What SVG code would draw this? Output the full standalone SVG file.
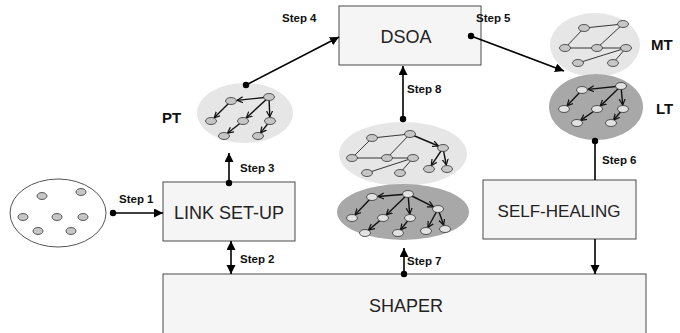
<svg xmlns="http://www.w3.org/2000/svg" width="680" height="333" viewBox="0 0 680 333">
<defs>
<style>
.box{fill:#f5f5f5;stroke:#4a4a4a;stroke-width:1}
.lbl{font-family:"Liberation Sans",Arial,sans-serif;font-size:18px;fill:#222;text-anchor:middle}
.step{font-family:"Liberation Sans",Arial,sans-serif;font-size:11.5px;font-weight:bold;fill:#111}
.tag{font-family:"Liberation Sans",Arial,sans-serif;font-size:15px;font-weight:bold;fill:#111}
.conn{stroke:#000;stroke-width:1.6;fill:none}
.light{fill:#e6e6e6}
.dark{fill:#a8a8a8}
.e{stroke:#222;stroke-width:0.9;fill:none}
.a{stroke:#111;stroke-width:1.4;fill:none;marker-end:url(#ta)}
.n{fill:#c6c6c6;stroke:#333;stroke-width:0.8}
.nd{fill:#e2e2e2;stroke:#333;stroke-width:0.8}
</style>
<marker id="arr" markerUnits="userSpaceOnUse" markerWidth="10" markerHeight="10" refX="9" refY="4.5" orient="auto-start-reverse"><path d="M0,0 L9,4.5 L0,9 Z" fill="#000"/></marker>
<marker id="dot" markerUnits="userSpaceOnUse" markerWidth="8" markerHeight="8" refX="4" refY="4"><circle cx="4" cy="4" r="3.2" fill="#000"/></marker>
<marker id="ta" markerUnits="userSpaceOnUse" markerWidth="8" markerHeight="8" refX="6" refY="3.5" orient="auto"><path d="M0,0.5 L6,3.5 L0,6.5" fill="none" stroke="#111" stroke-width="1.2"/></marker>
</defs>
<rect width="680" height="333" fill="#fff"/>

<g id="nodes-pool">
<ellipse cx="58" cy="213" rx="48" ry="34" fill="#fff" stroke="#555" stroke-width="1"/>
<ellipse class="n" cx="42" cy="196" rx="5" ry="3.5"/>
<ellipse class="n" cx="81" cy="192" rx="5" ry="3.5"/>
<ellipse class="n" cx="23" cy="217" rx="5" ry="3.5"/>
<ellipse class="n" cx="57" cy="217" rx="5" ry="3.5"/>
<ellipse class="n" cx="83" cy="217" rx="5" ry="3.5"/>
<ellipse class="n" cx="38" cy="231" rx="5" ry="3.5"/>
<ellipse class="n" cx="71" cy="231" rx="5" ry="3.5"/>
</g>

<g id="link-setup">
<rect class="box" x="163" y="182" width="132" height="59"/>
<text class="lbl" x="229" y="219">LINK SET-UP</text>
</g>

<g id="self-healing">
<rect class="box" x="483" y="180" width="153" height="59"/>
<text class="lbl" x="559" y="217" style="font-size:17px">SELF-HEALING</text>
</g>

<g id="dsoa">
<rect class="box" x="339" y="6" width="142" height="59"/>
<text class="lbl" x="406" y="43">DSOA</text>
</g>

<g id="shaper">
<rect class="box" x="163" y="274" width="483" height="70"/>
<text class="lbl" x="406" y="312">SHAPER</text>
</g>

<g id="pt">
<ellipse class="light" cx="245" cy="113" rx="48" ry="30"/>
<line class="a" x1="269" y1="97" x2="237" y2="100.4"/>
<line class="a" x1="231" y1="101" x2="214.2" y2="117.8"/>
<line class="a" x1="269" y1="97" x2="246.3" y2="117.9"/>
<line class="a" x1="269" y1="97" x2="269.8" y2="117"/>
<line class="a" x1="243" y1="121" x2="227.5" y2="133.2"/>
<line class="a" x1="270" y1="121" x2="260.5" y2="132.9"/>
<ellipse class="n" cx="269" cy="97" rx="5.5" ry="3.5"/>
<ellipse class="n" cx="231" cy="101" rx="5.5" ry="3.5"/>
<ellipse class="n" cx="211" cy="121" rx="5.5" ry="3.5"/>
<ellipse class="n" cx="243" cy="121" rx="5.5" ry="3.5"/>
<ellipse class="n" cx="270" cy="121" rx="5.5" ry="3.5"/>
<ellipse class="n" cx="224" cy="136" rx="5.5" ry="3.5"/>
<ellipse class="n" cx="258" cy="136" rx="5.5" ry="3.5"/>
<text class="tag" x="162" y="123">PT</text>
</g>

<g id="mt">
<ellipse class="light" cx="595" cy="45" rx="45" ry="32"/>
<polyline class="e" points="623,24 584,28 565,48 626,48 578,63"/>
<line class="e" x1="623" y1="24" x2="597" y2="48"/>
<line class="e" x1="626" y1="48" x2="613" y2="63"/>
<ellipse class="n" cx="584" cy="28" rx="5.5" ry="3.5"/>
<ellipse class="n" cx="623" cy="24" rx="5.5" ry="3.5"/>
<ellipse class="n" cx="565" cy="48" rx="5.5" ry="3.5"/>
<ellipse class="n" cx="597" cy="48" rx="5.5" ry="3.5"/>
<ellipse class="n" cx="626" cy="48" rx="5.5" ry="3.5"/>
<ellipse class="n" cx="578" cy="63" rx="5.5" ry="3.5"/>
<ellipse class="n" cx="613" cy="63" rx="5.5" ry="3.5"/>
<text class="tag" x="651" y="50">MT</text>
</g>

<g id="lt">
<ellipse class="dark" cx="596" cy="107" rx="47" ry="33"/>
<line class="a" x1="621" y1="86" x2="588" y2="89.4"/>
<line class="a" x1="582" y1="90" x2="567.1" y2="105.7"/>
<line class="a" x1="621" y1="86" x2="600.3" y2="105.9"/>
<line class="a" x1="621" y1="86" x2="622.7" y2="105"/>
<line class="a" x1="597" y1="109" x2="580.7" y2="120.4"/>
<line class="a" x1="623" y1="109" x2="613.6" y2="120"/>
<ellipse class="nd" cx="621" cy="86" rx="5.5" ry="3.5"/>
<ellipse class="nd" cx="582" cy="90" rx="5.5" ry="3.5"/>
<ellipse class="nd" cx="564" cy="109" rx="5.5" ry="3.5"/>
<ellipse class="nd" cx="597" cy="109" rx="5.5" ry="3.5"/>
<ellipse class="nd" cx="623" cy="109" rx="5.5" ry="3.5"/>
<ellipse class="nd" cx="577" cy="123" rx="5.5" ry="3.5"/>
<ellipse class="nd" cx="611" cy="123" rx="5.5" ry="3.5"/>
<text class="tag" x="656" y="114">LT</text>
</g>

<g id="mid-light">
<ellipse class="light" cx="403" cy="154" rx="64" ry="32"/>
<polyline class="e" points="410,134 372,138 352,158 413,158 367,173"/>
<line class="e" x1="410" y1="134" x2="387" y2="158"/>
<line class="e" x1="413" y1="158" x2="400" y2="173"/>
<line class="a" x1="410" y1="134" x2="438.4" y2="146"/>
<line class="a" x1="443" y1="148" x2="431.2" y2="165.7"/>
<line class="a" x1="443" y1="148" x2="446.3" y2="165"/>
<ellipse class="n" cx="372" cy="138" rx="5.5" ry="3.5"/>
<ellipse class="n" cx="410" cy="134" rx="5.5" ry="3.5"/>
<ellipse class="n" cx="352" cy="158" rx="5.5" ry="3.5"/>
<ellipse class="n" cx="387" cy="158" rx="5.5" ry="3.5"/>
<ellipse class="n" cx="413" cy="158" rx="5.5" ry="3.5"/>
<ellipse class="n" cx="367" cy="173" rx="5.5" ry="3.5"/>
<ellipse class="n" cx="400" cy="173" rx="5.5" ry="3.5"/>
<ellipse class="n" cx="443" cy="148" rx="5.5" ry="3.5"/>
<ellipse class="n" cx="429" cy="169" rx="5.5" ry="3.5"/>
<ellipse class="n" cx="447" cy="169" rx="5.5" ry="3.5"/>
</g>

<g id="mid-dark">
<ellipse class="dark" cx="403" cy="212" rx="66" ry="28"/>
<line class="a" x1="408" y1="194" x2="378" y2="196.5"/>
<line class="a" x1="372" y1="197" x2="355.1" y2="214.7"/>
<line class="a" x1="408" y1="194" x2="386.2" y2="214.9"/>
<line class="a" x1="408" y1="194" x2="409.7" y2="214"/>
<line class="a" x1="408" y1="194" x2="433.5" y2="206.8"/>
<line class="a" x1="383" y1="218" x2="368.5" y2="230.1"/>
<line class="a" x1="410" y1="218" x2="400.5" y2="229.9"/>
<line class="a" x1="438" y1="209" x2="427.9" y2="227.5"/>
<line class="a" x1="438" y1="209" x2="443.7" y2="225.2"/>
<ellipse class="nd" cx="408" cy="194" rx="5.5" ry="3.5"/>
<ellipse class="nd" cx="372" cy="197" rx="5.5" ry="3.5"/>
<ellipse class="nd" cx="352" cy="218" rx="5.5" ry="3.5"/>
<ellipse class="nd" cx="383" cy="218" rx="5.5" ry="3.5"/>
<ellipse class="nd" cx="410" cy="218" rx="5.5" ry="3.5"/>
<ellipse class="nd" cx="438" cy="209" rx="5.5" ry="3.5"/>
<ellipse class="nd" cx="365" cy="233" rx="5.5" ry="3.5"/>
<ellipse class="nd" cx="398" cy="233" rx="5.5" ry="3.5"/>
<ellipse class="nd" cx="426" cy="231" rx="5.5" ry="3.5"/>
<ellipse class="nd" cx="445" cy="229" rx="5.5" ry="3.5"/>
</g>

<g id="connectors">
<line class="conn" x1="113" y1="213" x2="163" y2="213" marker-start="url(#dot)" marker-end="url(#arr)"/>
<line class="conn" x1="231" y1="241" x2="231" y2="274" marker-start="url(#arr)" marker-end="url(#arr)"/>
<line class="conn" x1="229" y1="183" x2="229" y2="153" marker-start="url(#dot)" marker-end="url(#arr)"/>
<line class="conn" x1="246" y1="85" x2="339" y2="37" marker-start="url(#dot)" marker-end="url(#arr)"/>
<line class="conn" x1="471" y1="36" x2="564" y2="71" marker-start="url(#dot)" marker-end="url(#arr)"/>
<line class="conn" x1="595" y1="141" x2="595" y2="180" stroke-width="1.2" marker-start="url(#dot)"/>
<line class="conn" x1="595" y1="239" x2="595" y2="274" stroke-width="1.2" marker-end="url(#arr)"/>
<line class="conn" x1="404" y1="274" x2="404" y2="248" marker-start="url(#dot)" marker-end="url(#arr)"/>
<line class="conn" x1="403" y1="119" x2="403" y2="66" marker-start="url(#dot)" marker-end="url(#arr)"/>
<text class="step" x="119" y="203">Step 1</text>
<text class="step" x="240" y="263">Step 2</text>
<text class="step" x="240" y="172">Step 3</text>
<text class="step" x="282" y="22">Step 4</text>
<text class="step" x="476" y="22">Step 5</text>
<text class="step" x="602" y="164">Step 6</text>
<text class="step" x="407" y="265">Step 7</text>
<text class="step" x="407" y="93">Step 8</text>
</g>
</svg>
